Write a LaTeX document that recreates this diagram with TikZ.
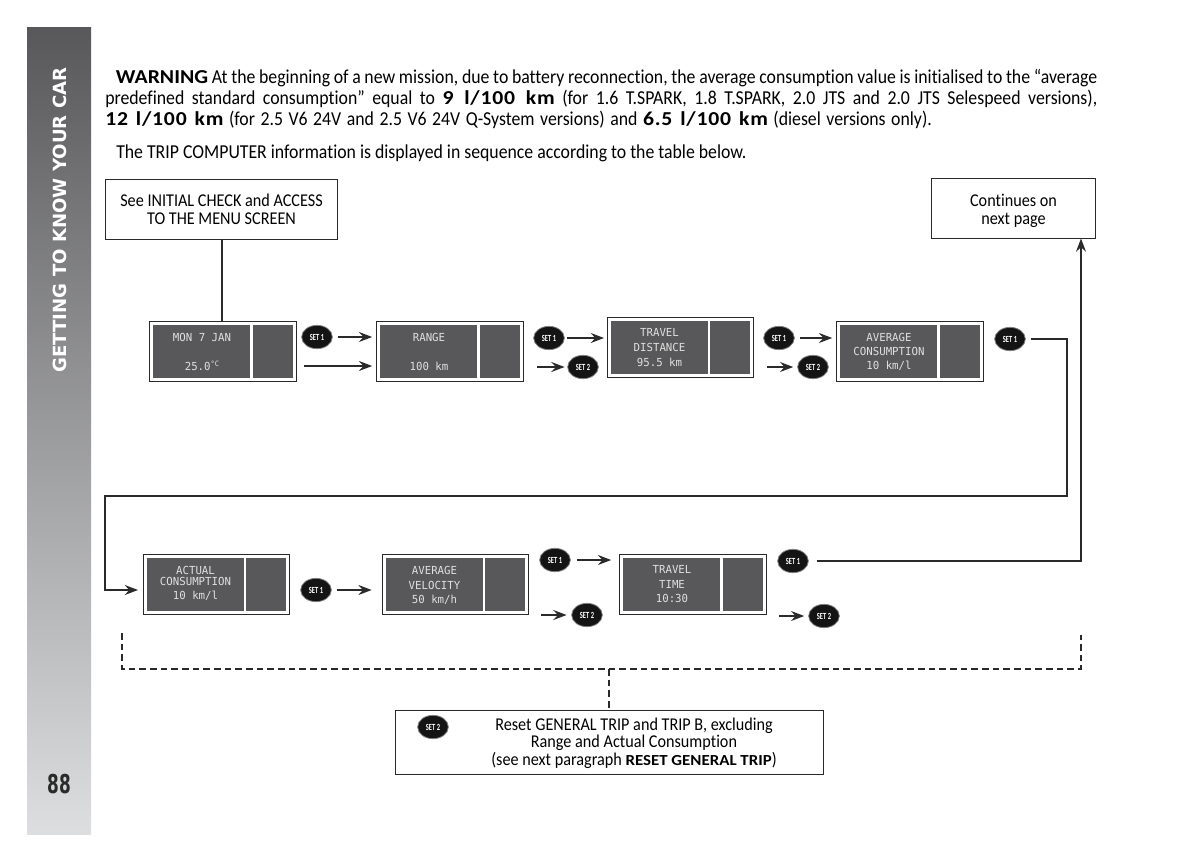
\documentclass[tikz,border=0pt]{standalone}
\usepackage{fontspec}
\setmainfont{Carlito}[Ligatures=NoCommon,FakeStretch=0.9,BoldFeatures={FakeStretch=1.1}]
\newfontfamily\lcdfont{DejaVu Sans Mono}[FakeStretch=0.97]
\newfontfamily\heavyfont{DejaVu Sans Bold}
\newfontfamily\digitfont{DejaVu Sans Bold}[FakeStretch=0.65]
\newfontfamily\badgefont{Carlito Bold}[FakeStretch=0.7]
\usetikzlibrary{arrows.meta,calc,positioning,shapes.geometric}
\definecolor{panelgray}{HTML}{58585A}
\definecolor{linegray}{HTML}{2A2A2A}
\definecolor{bandlight}{HTML}{DDDEE0}
\newcommand{\widebold}[1]{{\bfseries\addfontfeature{LetterSpace=4}#1}}
\tikzset{
  infobox/.style={draw=linegray,line width=0.7pt,fill=white,align=center,font=\fontsize{13.5}{13.5}\selectfont,inner sep=0pt},
  screenbox/.style={draw=linegray,line width=0.7pt,fill=white,minimum width=110pt,minimum height=44.5pt,inner sep=0pt,
    path picture={
      \fill[panelgray] ($(path picture bounding box.south west)+(2.6pt,2.6pt)$) rectangle ($(path picture bounding box.north west)+(75.5pt,-2.6pt)$);
      \fill[panelgray] ($(path picture bounding box.south west)+(77.2pt,2.6pt)$) rectangle ($(path picture bounding box.north east)+(-2.6pt,-2.6pt)$);
    }},
  lcdtext/.style={text=white!88!black,font=\lcdfont\fontsize{8.3}{8.3}\selectfont,inner sep=0pt},
  setbadge/.style={ellipse,draw=black!50,line width=0.6pt,fill=black!92,text=white,minimum width=23pt,minimum height=17.5pt,inner sep=0pt,font=\badgefont\fontsize{7}{7}\selectfont},
  flow/.style={line width=1.5pt,draw=linegray,-{Stealth[length=10pt,width=7.5pt,inset=3.5pt]}},
  plainflow/.style={line width=1.5pt,draw=linegray},
  dashflow/.style={line width=1.2pt,draw=linegray,dash pattern=on 5pt off 3pt},
}
\newcommand{\lcdscreen}[4]{%
  \node[screenbox] (#1) at (#2,#3) {};
  \foreach \dy/\txt [count=\i] in {#4}
    \node[lcdtext] (#1\i) at ($(#1.center)+(-21,\dy)$) {\txt};
}
\begin{document}
\begin{tikzpicture}[x=0.75pt,y=-0.75pt]
  \useasboundingbox (0,0) rectangle (1200,861);
  % side band
  \shade[top color=panelgray,bottom color=bandlight] (27,27) rectangle (91,834);
  \node[rotate=90,text=white,font=\heavyfont\fontsize{13.6}{14}\selectfont,inner sep=0pt] (bandtitle) at (60,220) {GETTING TO KNOW YOUR CAR};
  \node[text=linegray,font=\digitfont\fontsize{19.5}{20}\selectfont,inner sep=0pt] (pagenum) at (59,784) {88};
  % warning text
  \node[anchor=north west,text width=744pt,align=justify,inner sep=0pt,font=\fontsize{14.8}{15.75}\selectfont] (warning) at (105,69)
    {\hspace*{8pt}\textbf{WARNING} At the beginning of a new mission, due to battery reconnection, the average consumption value is initialised to the “average\linebreak predefined standard consumption” equal to \widebold{9 l/100 km} (for 1.6 T.SPARK, 1.8 T.SPARK, 2.0 JTS and 2.0 JTS Selespeed versions),\linebreak \makebox[620pt][s]{\widebold{12 l/100 km} (for 2.5 V6 24V and 2.5 V6 24V Q-System versions) and \widebold{6.5 l/100 km} (diesel versions only).}};
  \node[anchor=west,inner sep=0pt,font=\fontsize{14.8}{15}\selectfont] (intro) at (116,153) {The TRIP COMPUTER information is displayed in sequence according to the table below.};
  % boxes
  \node[infobox,minimum width=174.5pt,minimum height=44.5pt] (start) at (221.5,209.5) {See INITIAL CHECK and ACCESS\\TO THE MENU SCREEN};
  \node[infobox,minimum width=123.5pt,minimum height=45pt] (next) at (1013.5,208) {\rule{0pt}{13pt}Continues on\\next page};
  \node[infobox,minimum width=321pt,minimum height=48pt] (reset) at (609,742) {};
  \node[inner sep=0pt,align=center,font=\fontsize{13.5}{13.1}\selectfont] (resettext) at (634,743) {Reset GENERAL TRIP and TRIP B, excluding\\Range and Actual Consumption\\(see next paragraph {\fontsize{11.5}{13.1}\selectfont\textbf{RESET GENERAL TRIP}})};
  \node[setbadge] (setreset) at (433,727) {SET 2};
  % screens, first row
  \lcdscreen{date}{223}{351.5}{-14.5/MON 7 JAN,14.5/25.0{\fontsize{5.5}{5.5}\selectfont\raisebox{3pt}{°C}}}
  \lcdscreen{range}{450}{351.5}{-14.5/RANGE,14.5/100 km}
  \lcdscreen{distance}{680.5}{347.5}{-15/TRAVEL,0/DISTANCE,15/95.5 km}
  \lcdscreen{average}{910}{351.5}{-14.5/AVERAGE,-0.5/CONSUMPTION,14/{10 km/l}}
  % screens, second row
  \lcdscreen{actual}{216.5}{584.5}{-14.5/ACTUAL,-3.5/CONSUMPTION,11.5/{10 km/l}}
  \lcdscreen{velocity}{455.5}{584.5}{-14.5/AVERAGE,0.5/VELOCITY,15.5/{50 km/h}}
  \lcdscreen{triptime}{693}{584.5}{-15.5/TRAVEL,-0.5/TIME,14/10:30}
  % badges, first row
  \node[setbadge] (setA) at (317,337) {SET 1};
  \node[setbadge] (setB) at (549,338) {SET 1};
  \node[setbadge] (setC) at (583,367) {SET 2};
  \node[setbadge] (setD) at (779,338) {SET 1};
  \node[setbadge] (setE) at (813,367) {SET 2};
  \node[setbadge] (setF) at (1010,339) {SET 1};
  % badges, second row
  \node[setbadge] (setG) at (316,590) {SET 1};
  \node[setbadge] (setH) at (555,560) {SET 1};
  \node[setbadge] (setI) at (587,615) {SET 2};
  \node[setbadge] (setJ) at (793,561) {SET 1};
  \node[setbadge] (setK) at (824,616) {SET 2};
  % free ends
  \coordinate (dateout) at (304,366);
  \coordinate (rangeout) at (537,367);
  \coordinate (distout) at (767,367);
  \coordinate (turnA) at (1067,339);
  \coordinate (turnB) at (1067,496);
  \coordinate (turnC) at (105,496);
  \coordinate (turnD) at (105,590);
  \coordinate (veloout) at (541,615);
  \coordinate (timeout) at (779,616);
  \coordinate (turnE) at (1081,561);
  \coordinate (dashA) at (122,633);
  \coordinate (dashB) at (122,669);
  \coordinate (dashC) at (1081,669);
  \coordinate (dashD) at (1081,635);
  \coordinate (dashE) at (609,669);
  % connectors
  \draw[plainflow] (start.south) -- (start.south |- date.north);
  \draw[flow,shorten <=4pt,shorten >=3pt] (setA.east) -- (range.west |- setA.east);
  \draw[flow,shorten >=3pt] (dateout) -- (range.west |- dateout);
  \draw[flow,shorten <=2pt,shorten >=2pt] (setB.east) -- (distance.west |- setB.east);
  \draw[flow,shorten >=2pt] (rangeout) -- (setC.west);
  \draw[flow,shorten <=4pt,shorten >=3pt] (setD.east) -- (average.west |- setD.east);
  \draw[flow,shorten >=3pt] (distout) -- (setE.west);
  \draw[flow,shorten <=4pt,shorten >=3.5pt] (setF.east) -- (turnA) -- (turnB) -- (turnC) -- (turnD) -- (actual.west |- turnD);
  \draw[flow,shorten <=4pt,shorten >=7.5pt] (setG.east) -- (velocity.west |- setG.east);
  \draw[flow,shorten <=4.5pt,shorten >=6pt] (setH.east) -- (triptime.west |- setH.east);
  \draw[flow,shorten >=3.5pt] (veloout) -- (setI.west);
  \draw[flow,shorten <=6pt] (setJ.east) -- (turnE) -- (next.south -| turnE);
  \draw[flow,shorten >=3pt] (timeout) -- (setK.west);
  \draw[dashflow] (dashA) -- (dashB) -- (dashC) -- (dashD);
  \draw[dashflow] (dashE) -- (reset.north);
\end{tikzpicture}
\end{document}
